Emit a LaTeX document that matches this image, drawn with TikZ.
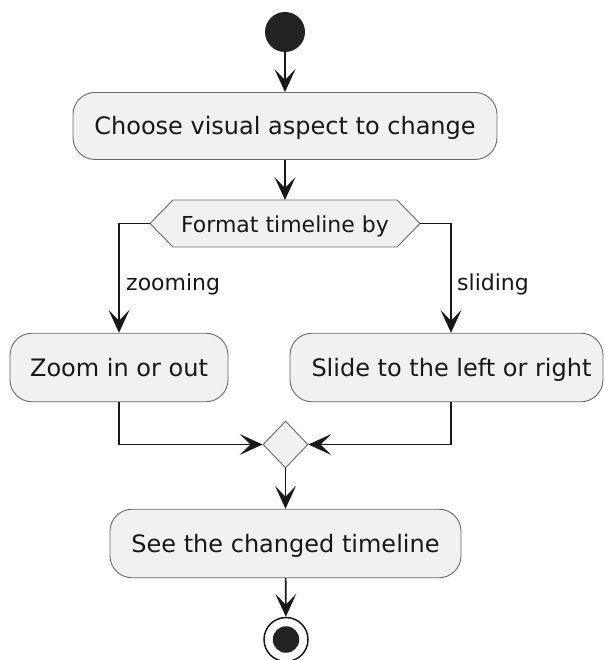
\documentclass[tikz,border=0pt]{standalone}
\usepackage{fontspec}
\setmainfont{DejaVu Sans}
\usetikzlibrary{arrows.meta,shapes.geometric}
\definecolor{ink}{HTML}{181818}
\definecolor{boxfill}{HTML}{F1F1F1}
\definecolor{boxline}{HTML}{6A6A6A}
\definecolor{dot}{HTML}{222222}
\tikzset{
  x=1pt, y=-1pt,
  action/.style={draw=boxline, line width=0.9pt, fill=boxfill, rounded corners=22pt,
    inner sep=0pt, minimum height=68.5pt, text height=18pt, text depth=0pt,
    font=\fontsize{24}{28}\selectfont, text=ink},
  guard/.style={inner sep=0pt, font=\fontsize{22}{26}\selectfont, text=ink},
  outline/.style={draw=boxline, line width=0.9pt, fill=boxfill},
  flow/.style={draw=ink, line width=1.6pt,
    -{Stealth[length=23pt, width=21pt, inset=11pt]}},
}
\begin{document}
\begin{tikzpicture}
  % canvas
  \fill[white] (0,0) rectangle (604,660);
  \useasboundingbox (0,0) rectangle (604,660);

  % start
  \node[circle, fill=dot, minimum size=40pt, inner sep=0pt] (start) at (285,32) {};

  % first action
  \node[action, minimum width=424pt, minimum height=67pt] (choose) at (285,126)
    {Choose visual aspect to change};

  % decision hexagon
  \node[minimum width=224pt, minimum height=47pt, inner sep=0pt, outer sep=0pt] (fmt) at (285,223.5) {};
  \coordinate (fmtL) at ([xshift=-23pt]fmt.west);
  \coordinate (fmtR) at ([xshift=23pt]fmt.east);
  \path[outline] (fmt.north west) -- (fmt.north east) -- (fmtR) -- (fmt.south east)
    -- (fmt.south west) -- (fmtL) -- cycle;
  \node[guard, anchor=base] (fmttext) at (285,232) {Format timeline by};

  % branches
  \node[action, minimum width=218pt] (zoom) at (119,367.5) {Zoom in or out};
  \node[action, minimum width=313pt] (slide) at (446.5,367.5)
    {\hspace*{10pt}Slide to the left or right};

  \node[guard, anchor=base west] (lzoom) at (126,290) {zooming};
  \node[guard, anchor=base west] (lslide) at (457,290) {sliding};

  % merge
  \node[diamond, outline, minimum width=45pt, minimum height=47pt, inner sep=0pt] (merge) at (285.5,444.5) {};

  % last action
  \node[action, minimum width=351pt] (see) at (285.5,543.5) {See the changed timeline};

  % stop
  \node[circle, draw=ink, line width=1.5pt, fill=white, minimum size=44pt, inner sep=0pt] (stop) at (286,639.5) {};
  \node[circle, fill=dot, minimum size=26.5pt, inner sep=0pt] (stopdot) at (stop) {};

  % connectors
  \draw[flow] (start) -- (choose);
  \draw[flow] (choose) -- (fmt);
  \draw[flow] (fmtL) -| (zoom);
  \draw[flow] (fmtR) -| ([xshift=4.5pt]slide.north);
  \draw[flow] (zoom) |- (merge);
  \draw[flow] ([xshift=4.5pt]slide.south) |- (merge);
  \draw[flow] (merge) -- (see);
  \draw[flow] (see) -- (stop);
\end{tikzpicture}
\end{document}
